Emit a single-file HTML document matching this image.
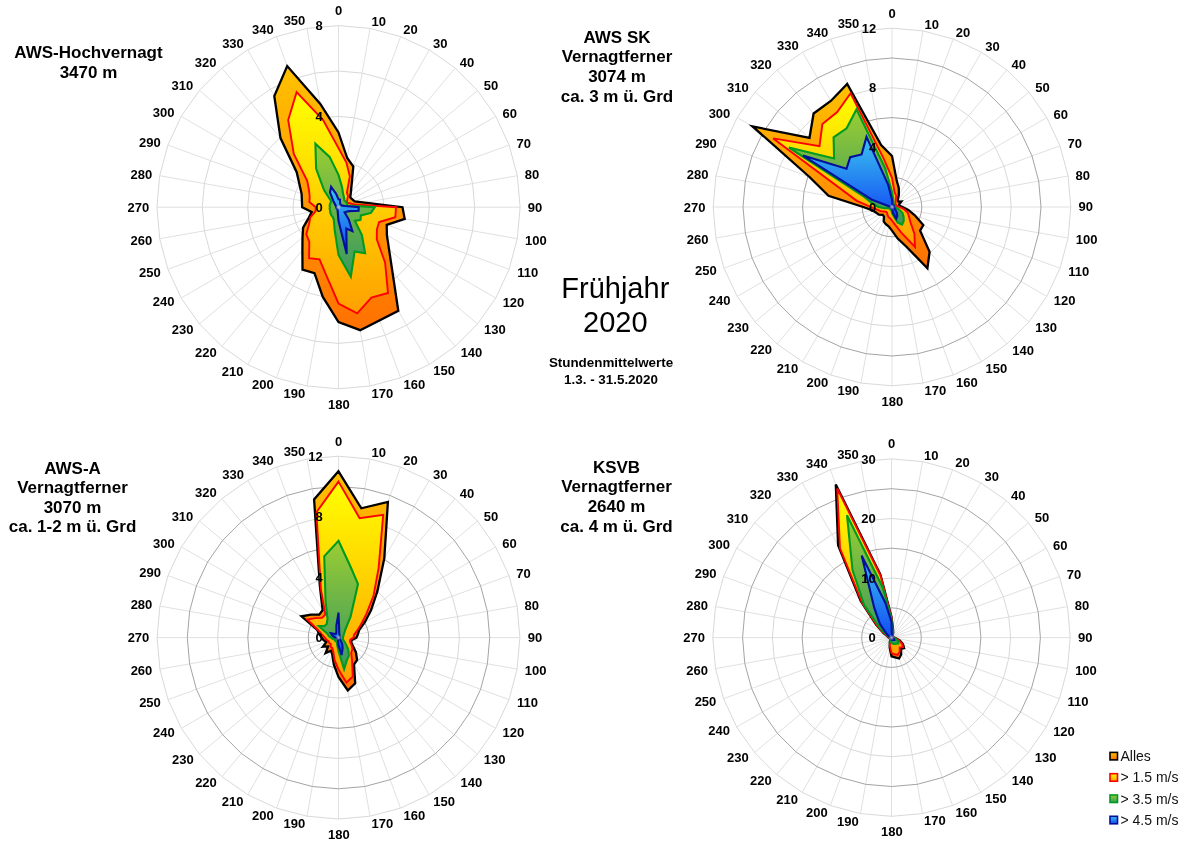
<!DOCTYPE html>
<html><head><meta charset="utf-8"><title>Frühjahr 2020</title>
<style>
html,body{margin:0;padding:0;background:#fff;}
body{width:1200px;height:847px;overflow:hidden;position:relative;font-family:"Liberation Sans",Arial,sans-serif;}
svg{position:absolute;left:0;top:0;}
.t{font-family:"Liberation Sans",Arial,sans-serif;font-weight:bold;fill:#000;}
.dl{font-size:13px;font-weight:bold;text-anchor:middle;fill:#000;font-family:"Liberation Sans",Arial,sans-serif;}
.sl{font-size:13px;font-weight:bold;text-anchor:middle;fill:#000;font-family:"Liberation Sans",Arial,sans-serif;}
</style></head><body>
<svg width="1200" height="847" viewBox="0 0 1200 847">
<defs>
<linearGradient id="gA" x1="0" y1="0" x2="0" y2="1"><stop offset="0" stop-color="#FFC200"/><stop offset="1" stop-color="#FF7000"/></linearGradient>
<linearGradient id="gB" x1="0" y1="0" x2="0" y2="1"><stop offset="0" stop-color="#FFFF00"/><stop offset="1" stop-color="#FFA000"/></linearGradient>
<linearGradient id="gC" x1="0" y1="0" x2="0" y2="1"><stop offset="0" stop-color="#9ACD32"/><stop offset="1" stop-color="#389860"/></linearGradient>
<linearGradient id="gD" x1="0" y1="0" x2="0" y2="1"><stop offset="0" stop-color="#3CC4EE"/><stop offset="1" stop-color="#1048F5"/></linearGradient>
<radialGradient id="gc"><stop offset="0" stop-color="#c8c8c8" stop-opacity="0.9"/><stop offset="1" stop-color="#c8c8c8" stop-opacity="0"/></radialGradient>
</defs>
<rect width="1200" height="847" fill="#fff"/>

<g stroke="#DCDCDC" stroke-width="0.9"><line x1="338.5" y1="207.2" x2="338.5" y2="25.6"/><line x1="338.5" y1="207.2" x2="370.0" y2="28.4"/><line x1="338.5" y1="207.2" x2="400.6" y2="36.6"/><line x1="338.5" y1="207.2" x2="429.3" y2="49.9"/><line x1="338.5" y1="207.2" x2="455.2" y2="68.1"/><line x1="338.5" y1="207.2" x2="477.6" y2="90.5"/><line x1="338.5" y1="207.2" x2="495.8" y2="116.4"/><line x1="338.5" y1="207.2" x2="509.1" y2="145.1"/><line x1="338.5" y1="207.2" x2="517.3" y2="175.7"/><line x1="338.5" y1="207.2" x2="520.1" y2="207.2"/><line x1="338.5" y1="207.2" x2="517.3" y2="238.7"/><line x1="338.5" y1="207.2" x2="509.1" y2="269.3"/><line x1="338.5" y1="207.2" x2="495.8" y2="298.0"/><line x1="338.5" y1="207.2" x2="477.6" y2="323.9"/><line x1="338.5" y1="207.2" x2="455.2" y2="346.3"/><line x1="338.5" y1="207.2" x2="429.3" y2="364.5"/><line x1="338.5" y1="207.2" x2="400.6" y2="377.8"/><line x1="338.5" y1="207.2" x2="370.0" y2="386.0"/><line x1="338.5" y1="207.2" x2="338.5" y2="388.8"/><line x1="338.5" y1="207.2" x2="307.0" y2="386.0"/><line x1="338.5" y1="207.2" x2="276.4" y2="377.8"/><line x1="338.5" y1="207.2" x2="247.7" y2="364.5"/><line x1="338.5" y1="207.2" x2="221.8" y2="346.3"/><line x1="338.5" y1="207.2" x2="199.4" y2="323.9"/><line x1="338.5" y1="207.2" x2="181.2" y2="298.0"/><line x1="338.5" y1="207.2" x2="167.9" y2="269.3"/><line x1="338.5" y1="207.2" x2="159.7" y2="238.7"/><line x1="338.5" y1="207.2" x2="156.9" y2="207.2"/><line x1="338.5" y1="207.2" x2="159.7" y2="175.7"/><line x1="338.5" y1="207.2" x2="167.9" y2="145.1"/><line x1="338.5" y1="207.2" x2="181.2" y2="116.4"/><line x1="338.5" y1="207.2" x2="199.4" y2="90.5"/><line x1="338.5" y1="207.2" x2="221.8" y2="68.1"/><line x1="338.5" y1="207.2" x2="247.7" y2="49.9"/><line x1="338.5" y1="207.2" x2="276.4" y2="36.6"/><line x1="338.5" y1="207.2" x2="307.0" y2="28.4"/></g>
<polygon points="338.5,161.8 346.4,162.5 354.0,164.5 361.2,167.9 367.7,172.4 373.3,178.0 377.8,184.5 381.2,191.7 383.2,199.3 383.9,207.2 383.2,215.1 381.2,222.7 377.8,229.9 373.3,236.4 367.7,242.0 361.2,246.5 354.0,249.9 346.4,251.9 338.5,252.6 330.6,251.9 323.0,249.9 315.8,246.5 309.3,242.0 303.7,236.4 299.2,229.9 295.8,222.7 293.8,215.1 293.1,207.2 293.8,199.3 295.8,191.7 299.2,184.5 303.7,178.0 309.3,172.4 315.8,167.9 323.0,164.5 330.6,162.5" fill="none" stroke="#D9D9D9" stroke-width="1"/>
<polygon points="338.5,116.4 354.3,117.8 369.6,121.9 383.9,128.6 396.9,137.6 408.1,148.8 417.1,161.8 423.8,176.1 427.9,191.4 429.3,207.2 427.9,223.0 423.8,238.3 417.1,252.6 408.1,265.6 396.9,276.8 383.9,285.8 369.6,292.5 354.3,296.6 338.5,298.0 322.7,296.6 307.4,292.5 293.1,285.8 280.1,276.8 268.9,265.6 259.9,252.6 253.2,238.3 249.1,223.0 247.7,207.2 249.1,191.4 253.2,176.1 259.9,161.8 268.9,148.8 280.1,137.6 293.1,128.6 307.4,121.9 322.7,117.8" fill="none" stroke="#D9D9D9" stroke-width="1"/>
<polygon points="338.5,71.0 362.2,73.1 385.1,79.2 406.6,89.2 426.0,102.9 442.8,119.7 456.5,139.1 466.5,160.6 472.6,183.5 474.7,207.2 472.6,230.9 466.5,253.8 456.5,275.3 442.8,294.7 426.0,311.5 406.6,325.2 385.1,335.2 362.2,341.3 338.5,343.4 314.8,341.3 291.9,335.2 270.4,325.2 251.0,311.5 234.2,294.7 220.5,275.3 210.5,253.8 204.4,230.9 202.3,207.2 204.4,183.5 210.5,160.6 220.5,139.1 234.2,119.7 251.0,102.9 270.4,89.2 291.9,79.2 314.8,73.1" fill="none" stroke="#D9D9D9" stroke-width="1"/>
<polygon points="338.5,25.6 370.0,28.4 400.6,36.6 429.3,49.9 455.2,68.1 477.6,90.5 495.8,116.4 509.1,145.1 517.3,175.7 520.1,207.2 517.3,238.7 509.1,269.3 495.8,298.0 477.6,323.9 455.2,346.3 429.3,364.5 400.6,377.8 370.0,386.0 338.5,388.8 307.0,386.0 276.4,377.8 247.7,364.5 221.8,346.3 199.4,323.9 181.2,298.0 167.9,269.3 159.7,238.7 156.9,207.2 159.7,175.7 167.9,145.1 181.2,116.4 199.4,90.5 221.8,68.1 247.7,49.9 276.4,36.6 307.0,28.4" fill="none" stroke="#D9D9D9" stroke-width="1"/>
<polygon points="338.5,132.5 347.2,158.0 353.3,166.6 350.9,192.4 350.2,197.4 352.3,199.3 354.7,201.3 402.5,207.2 404.7,218.9 386.7,224.8 386.9,235.1 398.3,310.9 360.2,330.2 338.5,322.1 322.7,296.7 314.5,273.1 302.5,269.6 302.4,250.2 302.5,237.4 303.1,227.6 308.6,218.1 311.7,211.9 302.2,207.2 301.6,193.8 296.7,172.2 280.5,138.1 274.3,96.1 287.2,66.1 320.3,103.9" fill="url(#gA)" stroke="#000" stroke-width="2.3" stroke-linejoin="miter" stroke-miterlimit="4"/>
<polygon points="338.5,148.1 346.4,162.5 349.8,176.3 346.9,192.6 348.0,195.9 347.2,199.9 346.8,202.4 349.2,203.3 354.2,204.4 396.0,207.2 395.3,217.2 379.1,222.0 376.9,229.3 376.8,239.3 385.1,262.7 388.0,293.0 371.4,297.7 357.2,313.4 338.5,303.5 326.4,275.6 319.5,259.3 309.1,258.1 309.3,242.0 306.3,234.2 309.0,224.2 310.3,217.5 315.5,211.3 315.8,207.2 309.4,202.1 309.7,196.7 309.0,190.2 307.2,180.9 293.8,154.0 288.2,120.1 296.6,92.2 323.1,120.0" fill="url(#gB)" stroke="#FF0000" stroke-width="1.9" stroke-linejoin="miter" stroke-miterlimit="4"/>
<polygon points="338.5,174.9 342.0,187.1 343.2,194.4 344.1,197.6 344.3,200.2 345.5,201.4 346.4,202.7 347.0,204.1 347.4,205.6 374.8,207.2 370.9,212.9 360.9,215.4 360.5,219.9 354.9,220.9 361.9,235.0 365.1,253.2 354.6,251.4 350.8,276.8 338.5,254.9 334.6,229.6 333.8,220.0 332.8,217.0 331.5,215.6 330.7,213.8 330.2,212.0 330.0,210.3 329.6,208.8 329.9,207.2 329.6,205.6 330.0,204.1 330.6,202.7 331.0,200.9 324.0,190.0 316.1,168.5 315.4,143.8 329.6,156.9" fill="url(#gC)" stroke="#009A1E" stroke-width="2.1" stroke-linejoin="miter" stroke-miterlimit="4"/>
<polygon points="338.5,199.3 339.9,199.4 340.1,202.9 340.2,204.2 340.7,204.6 341.1,205.0 341.5,205.5 342.8,205.6 345.2,206.0 358.7,207.2 358.6,210.7 349.2,211.1 346.4,211.7 344.6,212.3 348.7,219.4 352.4,231.2 346.3,228.5 346.7,253.9 338.5,220.8 337.7,211.7 337.6,209.8 337.4,209.2 337.0,208.9 336.8,208.7 336.5,208.3 336.4,208.0 336.3,207.6 336.2,207.2 336.3,206.8 336.4,206.4 335.5,205.5 335.0,204.3 333.4,201.1 330.0,192.4 331.1,186.9 336.1,193.8" fill="url(#gD)" stroke="#00109A" stroke-width="2.1" stroke-linejoin="miter" stroke-miterlimit="4"/>
<circle cx="338.5" cy="207.2" r="3" fill="url(#gc)"/>
<text class="sl" x="322.8" y="211.8" text-anchor="end" style="text-anchor:end">0</text>
<text class="sl" x="322.8" y="121.0" text-anchor="end" style="text-anchor:end">4</text>
<text class="sl" x="322.8" y="30.2" text-anchor="end" style="text-anchor:end">8</text>
<text class="dl" x="338.7" y="14.9">0</text>
<text class="dl" x="378.8" y="26.3">10</text>
<text class="dl" x="410.5" y="34.2">20</text>
<text class="dl" x="440.3" y="48.4">30</text>
<text class="dl" x="467.1" y="67.0">40</text>
<text class="dl" x="491.1" y="90.0">50</text>
<text class="dl" x="509.7" y="117.8">60</text>
<text class="dl" x="523.8" y="147.5">70</text>
<text class="dl" x="532.0" y="179.2">80</text>
<text class="dl" x="535.1" y="211.6">90</text>
<text class="dl" x="535.9" y="244.7">100</text>
<text class="dl" x="527.8" y="276.7">110</text>
<text class="dl" x="513.5" y="306.5">120</text>
<text class="dl" x="494.8" y="333.5">130</text>
<text class="dl" x="471.5" y="356.9">140</text>
<text class="dl" x="444.2" y="375.3">150</text>
<text class="dl" x="414.4" y="389.3">160</text>
<text class="dl" x="382.4" y="397.9">170</text>
<text class="dl" x="338.8" y="408.5">180</text>
<text class="dl" x="294.4" y="398.0">190</text>
<text class="dl" x="262.8" y="389.3">200</text>
<text class="dl" x="232.6" y="375.6">210</text>
<text class="dl" x="205.9" y="356.7">220</text>
<text class="dl" x="182.6" y="333.8">230</text>
<text class="dl" x="163.7" y="306.4">240</text>
<text class="dl" x="149.8" y="276.6">250</text>
<text class="dl" x="141.3" y="245.0">260</text>
<text class="dl" x="138.3" y="212.0">270</text>
<text class="dl" x="141.3" y="179.0">280</text>
<text class="dl" x="149.9" y="146.8">290</text>
<text class="dl" x="163.6" y="117.0">300</text>
<text class="dl" x="182.3" y="90.2">310</text>
<text class="dl" x="205.7" y="66.8">320</text>
<text class="dl" x="233.0" y="48.1">330</text>
<text class="dl" x="262.9" y="34.4">340</text>
<text class="dl" x="294.5" y="25.3">350</text>
<g stroke="#DCDCDC" stroke-width="0.9"><line x1="892" y1="207" x2="892.0" y2="28.2"/><line x1="892" y1="207" x2="923.0" y2="30.9"/><line x1="892" y1="207" x2="953.2" y2="39.0"/><line x1="892" y1="207" x2="981.4" y2="52.2"/><line x1="892" y1="207" x2="1006.9" y2="70.0"/><line x1="892" y1="207" x2="1029.0" y2="92.1"/><line x1="892" y1="207" x2="1046.8" y2="117.6"/><line x1="892" y1="207" x2="1060.0" y2="145.8"/><line x1="892" y1="207" x2="1068.1" y2="176.0"/><line x1="892" y1="207" x2="1070.8" y2="207.0"/><line x1="892" y1="207" x2="1068.1" y2="238.0"/><line x1="892" y1="207" x2="1060.0" y2="268.2"/><line x1="892" y1="207" x2="1046.8" y2="296.4"/><line x1="892" y1="207" x2="1029.0" y2="321.9"/><line x1="892" y1="207" x2="1006.9" y2="344.0"/><line x1="892" y1="207" x2="981.4" y2="361.8"/><line x1="892" y1="207" x2="953.2" y2="375.0"/><line x1="892" y1="207" x2="923.0" y2="383.1"/><line x1="892" y1="207" x2="892.0" y2="385.8"/><line x1="892" y1="207" x2="861.0" y2="383.1"/><line x1="892" y1="207" x2="830.8" y2="375.0"/><line x1="892" y1="207" x2="802.6" y2="361.8"/><line x1="892" y1="207" x2="777.1" y2="344.0"/><line x1="892" y1="207" x2="755.0" y2="321.9"/><line x1="892" y1="207" x2="737.2" y2="296.4"/><line x1="892" y1="207" x2="724.0" y2="268.2"/><line x1="892" y1="207" x2="715.9" y2="238.0"/><line x1="892" y1="207" x2="713.2" y2="207.0"/><line x1="892" y1="207" x2="715.9" y2="176.0"/><line x1="892" y1="207" x2="724.0" y2="145.8"/><line x1="892" y1="207" x2="737.2" y2="117.6"/><line x1="892" y1="207" x2="755.0" y2="92.1"/><line x1="892" y1="207" x2="777.1" y2="70.0"/><line x1="892" y1="207" x2="802.6" y2="52.2"/><line x1="892" y1="207" x2="830.8" y2="39.0"/><line x1="892" y1="207" x2="861.0" y2="30.9"/></g>
<polygon points="892.0,177.2 897.2,177.7 902.2,179.0 906.9,181.2 911.2,184.2 914.8,187.8 917.8,192.1 920.0,196.8 921.3,201.8 921.8,207.0 921.3,212.2 920.0,217.2 917.8,221.9 914.8,226.2 911.2,229.8 906.9,232.8 902.2,235.0 897.2,236.3 892.0,236.8 886.8,236.3 881.8,235.0 877.1,232.8 872.8,229.8 869.2,226.2 866.2,221.9 864.0,217.2 862.7,212.2 862.2,207.0 862.7,201.8 864.0,196.8 866.2,192.1 869.2,187.8 872.8,184.2 877.1,181.2 881.8,179.0 886.8,177.7" fill="none" stroke="#A4A4A4" stroke-width="1"/>
<polygon points="892.0,147.4 902.3,148.3 912.4,151.0 921.8,155.4 930.3,161.3 937.7,168.7 943.6,177.2 948.0,186.6 950.7,196.7 951.6,207.0 950.7,217.3 948.0,227.4 943.6,236.8 937.7,245.3 930.3,252.7 921.8,258.6 912.4,263.0 902.3,265.7 892.0,266.6 881.7,265.7 871.6,263.0 862.2,258.6 853.7,252.7 846.3,245.3 840.4,236.8 836.0,227.4 833.3,217.3 832.4,207.0 833.3,196.7 836.0,186.6 840.4,177.2 846.3,168.7 853.7,161.3 862.2,155.4 871.6,151.0 881.7,148.3" fill="none" stroke="#D9D9D9" stroke-width="1"/>
<polygon points="892.0,117.6 907.5,119.0 922.6,123.0 936.7,129.6 949.5,138.5 960.5,149.5 969.4,162.3 976.0,176.4 980.0,191.5 981.4,207.0 980.0,222.5 976.0,237.6 969.4,251.7 960.5,264.5 949.5,275.5 936.7,284.4 922.6,291.0 907.5,295.0 892.0,296.4 876.5,295.0 861.4,291.0 847.3,284.4 834.5,275.5 823.5,264.5 814.6,251.7 808.0,237.6 804.0,222.5 802.6,207.0 804.0,191.5 808.0,176.4 814.6,162.3 823.5,149.5 834.5,138.5 847.3,129.6 861.4,123.0 876.5,119.0" fill="none" stroke="#A4A4A4" stroke-width="1"/>
<polygon points="892.0,87.8 912.7,89.6 932.8,95.0 951.6,103.8 968.6,115.7 983.3,130.4 995.2,147.4 1004.0,166.2 1009.4,186.3 1011.2,207.0 1009.4,227.7 1004.0,247.8 995.2,266.6 983.3,283.6 968.6,298.3 951.6,310.2 932.8,319.0 912.7,324.4 892.0,326.2 871.3,324.4 851.2,319.0 832.4,310.2 815.4,298.3 800.7,283.6 788.8,266.6 780.0,247.8 774.6,227.7 772.8,207.0 774.6,186.3 780.0,166.2 788.8,147.4 800.7,130.4 815.4,115.7 832.4,103.8 851.2,95.0 871.3,89.6" fill="none" stroke="#D9D9D9" stroke-width="1"/>
<polygon points="892.0,58.0 917.9,60.3 943.0,67.0 966.5,78.0 987.8,92.9 1006.1,111.2 1021.0,132.5 1032.0,156.0 1038.7,181.1 1041.0,207.0 1038.7,232.9 1032.0,258.0 1021.0,281.5 1006.1,302.8 987.8,321.1 966.5,336.0 943.0,347.0 917.9,353.7 892.0,356.0 866.1,353.7 841.0,347.0 817.5,336.0 796.2,321.1 777.9,302.8 763.0,281.5 752.0,258.0 745.3,232.9 743.0,207.0 745.3,181.1 752.0,156.0 763.0,132.5 777.9,111.2 796.2,92.9 817.5,78.0 841.0,67.0 866.1,60.3" fill="none" stroke="#A4A4A4" stroke-width="1"/>
<polygon points="892.0,28.2 923.0,30.9 953.2,39.0 981.4,52.2 1006.9,70.0 1029.0,92.1 1046.8,117.6 1060.0,145.8 1068.1,176.0 1070.8,207.0 1068.1,238.0 1060.0,268.2 1046.8,296.4 1029.0,321.9 1006.9,344.0 981.4,361.8 953.2,375.0 923.0,383.1 892.0,385.8 861.0,383.1 830.8,375.0 802.6,361.8 777.1,344.0 755.0,321.9 737.2,296.4 724.0,268.2 715.9,238.0 713.2,207.0 715.9,176.0 724.0,145.8 737.2,117.6 755.0,92.1 777.1,70.0 802.6,52.2 830.8,39.0 861.0,30.9" fill="none" stroke="#D9D9D9" stroke-width="1"/>
<polygon points="892.0,156.0 896.7,180.6 898.8,188.2 898.8,195.2 897.8,200.0 898.4,201.6 901.4,201.5 899.1,204.4 899.5,205.7 902.6,207.0 908.3,209.9 914.8,215.3 923.3,225.1 920.1,230.6 929.6,251.8 927.4,268.2 906.4,246.7 897.5,238.3 892.0,230.6 888.6,226.4 885.8,224.1 883.7,221.4 884.0,216.5 882.7,214.8 878.9,214.6 876.3,212.7 872.6,210.4 863.2,207.0 828.5,195.8 809.5,177.0 752.5,126.4 809.5,137.8 813.6,113.5 830.8,101.0 847.2,83.9 881.1,145.1" fill="url(#gA)" stroke="#000" stroke-width="2.3" stroke-linejoin="miter" stroke-miterlimit="4"/>
<polygon points="892.0,177.8 894.6,192.1 896.1,195.6 895.8,200.4 895.4,202.9 895.5,204.1 895.9,204.7 896.3,205.4 897.2,206.1 899.6,207.0 903.9,209.1 907.7,212.7 909.0,216.8 910.6,222.6 914.4,233.7 915.0,246.9 901.3,232.6 895.2,224.9 892.0,220.6 890.0,218.2 888.4,217.0 887.5,214.9 887.1,212.8 886.2,211.9 884.1,211.5 880.6,211.1 877.1,209.6 870.8,207.0 856.8,200.8 773.2,138.4 819.5,146.2 822.4,124.1 837.2,112.1 850.6,93.3 883.3,157.8" fill="url(#gB)" stroke="#FF0000" stroke-width="1.9" stroke-linejoin="miter" stroke-miterlimit="4"/>
<polygon points="892.0,191.9 893.3,199.5 893.6,202.7 893.5,204.4 893.9,204.7 894.3,205.1 894.6,205.5 894.8,206.0 895.0,206.5 895.0,207.0 896.5,207.8 899.1,209.6 902.5,213.1 903.6,216.7 903.7,220.9 902.1,224.6 897.7,222.7 893.6,215.9 892.0,213.1 891.5,210.0 891.0,209.8 890.5,209.6 890.1,209.3 889.7,208.9 889.4,208.5 889.2,208.0 884.5,208.3 878.4,207.0 872.6,203.6 864.3,196.9 788.9,147.5 834.1,158.4 833.6,137.4 846.6,128.3 856.5,109.4 885.2,168.2" fill="url(#gC)" stroke="#009A1E" stroke-width="2.1" stroke-linejoin="miter" stroke-miterlimit="4"/>
<polygon points="892.0,199.4 892.4,204.8 892.8,204.9 893.1,205.0 893.5,205.3 893.7,205.5 894.0,205.9 894.1,206.2 894.2,206.6 894.3,207.0 894.2,207.4 894.1,207.8 894.6,208.5 895.5,209.9 896.9,212.8 897.3,216.2 896.2,218.7 893.1,213.0 892.0,208.5 891.7,208.5 891.5,208.4 891.2,208.3 891.0,208.2 890.8,208.0 890.7,207.8 890.6,207.5 890.5,207.3 890.5,207.0 890.2,206.7 871.4,199.5 803.0,155.6 846.5,168.8 850.2,157.2 861.6,154.4 866.5,136.9 888.1,184.6" fill="url(#gD)" stroke="#00109A" stroke-width="2.1" stroke-linejoin="miter" stroke-miterlimit="4"/>
<circle cx="892" cy="207" r="3" fill="url(#gc)"/>
<text class="sl" x="876.3" y="211.6" text-anchor="end" style="text-anchor:end">0</text>
<text class="sl" x="876.3" y="152.0" text-anchor="end" style="text-anchor:end">4</text>
<text class="sl" x="876.3" y="92.4" text-anchor="end" style="text-anchor:end">8</text>
<text class="sl" x="876.3" y="32.8" text-anchor="end" style="text-anchor:end">12</text>
<text class="dl" x="892.2" y="17.5">0</text>
<text class="dl" x="931.8" y="28.9">10</text>
<text class="dl" x="963.0" y="36.6">20</text>
<text class="dl" x="992.4" y="50.6">30</text>
<text class="dl" x="1018.8" y="68.9">40</text>
<text class="dl" x="1042.5" y="91.6">50</text>
<text class="dl" x="1060.8" y="119.0">60</text>
<text class="dl" x="1074.7" y="148.3">70</text>
<text class="dl" x="1082.7" y="179.5">80</text>
<text class="dl" x="1085.8" y="211.4">90</text>
<text class="dl" x="1086.6" y="244.0">100</text>
<text class="dl" x="1078.7" y="275.5">110</text>
<text class="dl" x="1064.6" y="304.9">120</text>
<text class="dl" x="1046.2" y="331.5">130</text>
<text class="dl" x="1023.2" y="354.6">140</text>
<text class="dl" x="996.3" y="372.7">150</text>
<text class="dl" x="966.9" y="386.5">160</text>
<text class="dl" x="935.4" y="394.9">170</text>
<text class="dl" x="892.3" y="405.5">180</text>
<text class="dl" x="848.4" y="395.0">190</text>
<text class="dl" x="817.3" y="386.5">200</text>
<text class="dl" x="787.5" y="373.0">210</text>
<text class="dl" x="761.2" y="354.4">220</text>
<text class="dl" x="738.2" y="331.8">230</text>
<text class="dl" x="719.6" y="304.8">240</text>
<text class="dl" x="705.9" y="275.4">250</text>
<text class="dl" x="697.6" y="244.3">260</text>
<text class="dl" x="694.6" y="211.8">270</text>
<text class="dl" x="697.6" y="179.3">280</text>
<text class="dl" x="706.0" y="147.6">290</text>
<text class="dl" x="719.5" y="118.2">300</text>
<text class="dl" x="737.9" y="91.8">310</text>
<text class="dl" x="761.0" y="68.7">320</text>
<text class="dl" x="787.9" y="50.3">330</text>
<text class="dl" x="817.4" y="36.8">340</text>
<text class="dl" x="848.5" y="27.9">350</text>
<g stroke="#DCDCDC" stroke-width="0.9"><line x1="338.5" y1="637.6" x2="338.5" y2="456.2"/><line x1="338.5" y1="637.6" x2="370.0" y2="459.0"/><line x1="338.5" y1="637.6" x2="400.5" y2="467.1"/><line x1="338.5" y1="637.6" x2="429.2" y2="480.5"/><line x1="338.5" y1="637.6" x2="455.1" y2="498.6"/><line x1="338.5" y1="637.6" x2="477.5" y2="521.0"/><line x1="338.5" y1="637.6" x2="495.6" y2="546.9"/><line x1="338.5" y1="637.6" x2="509.0" y2="575.6"/><line x1="338.5" y1="637.6" x2="517.1" y2="606.1"/><line x1="338.5" y1="637.6" x2="519.9" y2="637.6"/><line x1="338.5" y1="637.6" x2="517.1" y2="669.1"/><line x1="338.5" y1="637.6" x2="509.0" y2="699.6"/><line x1="338.5" y1="637.6" x2="495.6" y2="728.3"/><line x1="338.5" y1="637.6" x2="477.5" y2="754.2"/><line x1="338.5" y1="637.6" x2="455.1" y2="776.6"/><line x1="338.5" y1="637.6" x2="429.2" y2="794.7"/><line x1="338.5" y1="637.6" x2="400.5" y2="808.1"/><line x1="338.5" y1="637.6" x2="370.0" y2="816.2"/><line x1="338.5" y1="637.6" x2="338.5" y2="819.0"/><line x1="338.5" y1="637.6" x2="307.0" y2="816.2"/><line x1="338.5" y1="637.6" x2="276.5" y2="808.1"/><line x1="338.5" y1="637.6" x2="247.8" y2="794.7"/><line x1="338.5" y1="637.6" x2="221.9" y2="776.6"/><line x1="338.5" y1="637.6" x2="199.5" y2="754.2"/><line x1="338.5" y1="637.6" x2="181.4" y2="728.3"/><line x1="338.5" y1="637.6" x2="168.0" y2="699.6"/><line x1="338.5" y1="637.6" x2="159.9" y2="669.1"/><line x1="338.5" y1="637.6" x2="157.1" y2="637.6"/><line x1="338.5" y1="637.6" x2="159.9" y2="606.1"/><line x1="338.5" y1="637.6" x2="168.0" y2="575.6"/><line x1="338.5" y1="637.6" x2="181.4" y2="546.9"/><line x1="338.5" y1="637.6" x2="199.5" y2="521.0"/><line x1="338.5" y1="637.6" x2="221.9" y2="498.6"/><line x1="338.5" y1="637.6" x2="247.8" y2="480.5"/><line x1="338.5" y1="637.6" x2="276.5" y2="467.1"/><line x1="338.5" y1="637.6" x2="307.0" y2="459.0"/></g>
<polygon points="338.5,607.4 343.7,607.8 348.8,609.2 353.6,611.4 357.9,614.4 361.7,618.2 364.7,622.5 366.9,627.3 368.3,632.4 368.7,637.6 368.3,642.8 366.9,647.9 364.7,652.7 361.7,657.0 357.9,660.8 353.6,663.8 348.8,666.0 343.7,667.4 338.5,667.8 333.3,667.4 328.2,666.0 323.4,663.8 319.1,660.8 315.3,657.0 312.3,652.7 310.1,647.9 308.7,642.8 308.3,637.6 308.7,632.4 310.1,627.3 312.3,622.5 315.3,618.2 319.1,614.4 323.4,611.4 328.2,609.2 333.3,607.8" fill="none" stroke="#A4A4A4" stroke-width="1"/>
<polygon points="338.5,577.1 349.0,578.1 359.2,580.8 368.7,585.2 377.4,591.3 384.8,598.7 390.9,607.4 395.3,616.9 398.0,627.1 399.0,637.6 398.0,648.1 395.3,658.3 390.9,667.8 384.8,676.5 377.4,683.9 368.7,690.0 359.2,694.4 349.0,697.1 338.5,698.1 328.0,697.1 317.8,694.4 308.3,690.0 299.6,683.9 292.2,676.5 286.1,667.8 281.7,658.3 279.0,648.1 278.0,637.6 279.0,627.1 281.7,616.9 286.1,607.4 292.2,598.7 299.6,591.3 308.3,585.2 317.8,580.8 328.0,578.1" fill="none" stroke="#D9D9D9" stroke-width="1"/>
<polygon points="338.5,546.9 354.2,548.3 369.5,552.4 383.9,559.1 396.8,568.1 408.0,579.3 417.0,592.2 423.7,606.6 427.8,621.9 429.2,637.6 427.8,653.3 423.7,668.6 417.0,683.0 408.0,695.9 396.8,707.1 383.9,716.1 369.5,722.8 354.2,726.9 338.5,728.3 322.8,726.9 307.5,722.8 293.1,716.1 280.2,707.1 269.0,695.9 260.0,683.0 253.3,668.6 249.2,653.3 247.8,637.6 249.2,621.9 253.3,606.6 260.0,592.2 269.0,579.3 280.2,568.1 293.1,559.1 307.5,552.4 322.8,548.3" fill="none" stroke="#A4A4A4" stroke-width="1"/>
<polygon points="338.5,516.7 359.5,518.5 379.9,524.0 399.0,532.9 416.2,545.0 431.1,559.9 443.2,577.1 452.1,596.2 457.6,616.6 459.4,637.6 457.6,658.6 452.1,679.0 443.2,698.1 431.1,715.3 416.2,730.2 399.0,742.3 379.9,751.2 359.5,756.7 338.5,758.5 317.5,756.7 297.1,751.2 278.0,742.3 260.8,730.2 245.9,715.3 233.8,698.1 224.9,679.0 219.4,658.6 217.6,637.6 219.4,616.6 224.9,596.2 233.8,577.1 245.9,559.9 260.8,545.0 278.0,532.9 297.1,524.0 317.5,518.5" fill="none" stroke="#D9D9D9" stroke-width="1"/>
<polygon points="338.5,486.4 364.7,488.7 390.2,495.5 414.1,506.7 435.7,521.8 454.3,540.4 469.4,562.0 480.6,585.9 487.4,611.4 489.7,637.6 487.4,663.8 480.6,689.3 469.4,713.2 454.3,734.8 435.7,753.4 414.1,768.5 390.2,779.7 364.7,786.5 338.5,788.8 312.3,786.5 286.8,779.7 262.9,768.5 241.3,753.4 222.7,734.8 207.6,713.2 196.4,689.3 189.6,663.8 187.3,637.6 189.6,611.4 196.4,585.9 207.6,562.0 222.7,540.4 241.3,521.8 262.9,506.7 286.8,495.5 312.3,488.7" fill="none" stroke="#A4A4A4" stroke-width="1"/>
<polygon points="338.5,456.2 370.0,459.0 400.5,467.1 429.2,480.5 455.1,498.6 477.5,521.0 495.6,546.9 509.0,575.6 517.1,606.1 519.9,637.6 517.1,669.1 509.0,699.6 495.6,728.3 477.5,754.2 455.1,776.6 429.2,794.7 400.5,808.1 370.0,816.2 338.5,819.0 307.0,816.2 276.5,808.1 247.8,794.7 221.9,776.6 199.5,754.2 181.4,728.3 168.0,699.6 159.9,669.1 157.1,637.6 159.9,606.1 168.0,575.6 181.4,546.9 199.5,521.0 221.9,498.6 247.8,480.5 276.5,467.1 307.0,459.0" fill="none" stroke="#D9D9D9" stroke-width="1"/>
<polygon points="338.5,471.3 361.3,508.3 387.9,501.9 384.3,558.3 377.4,591.2 371.0,610.3 364.7,622.5 359.1,630.1 357.9,634.2 356.5,637.6 351.9,640.0 351.2,642.2 352.9,645.9 355.9,652.2 357.1,659.8 354.0,664.5 355.2,683.4 347.8,690.5 338.5,677.0 333.8,664.4 332.3,654.7 330.9,650.7 325.6,653.0 328.1,646.4 322.8,646.7 326.3,642.1 323.6,640.2 321.8,637.6 319.1,634.2 317.2,629.8 301.5,616.3 311.1,614.6 319.2,614.6 322.6,610.1 319.9,586.4 314.1,499.4" fill="url(#gA)" stroke="#000" stroke-width="2.3" stroke-linejoin="miter" stroke-miterlimit="4"/>
<polygon points="338.5,481.6 359.6,518.2 383.2,514.8 378.6,568.1 373.5,595.8 366.3,614.2 360.8,624.7 357.0,630.9 354.0,634.9 353.6,637.6 350.3,639.7 349.9,641.7 351.6,645.2 352.4,649.3 351.2,652.7 352.1,661.2 352.7,676.6 346.4,682.5 338.5,669.4 334.6,660.0 333.3,651.8 332.4,648.1 330.7,646.9 330.8,644.0 329.3,642.9 328.5,641.2 326.6,639.7 324.9,637.6 322.1,634.7 318.2,630.2 307.2,619.5 315.3,618.1 322.0,617.9 325.3,614.7 320.9,589.2 316.4,512.3" fill="url(#gB)" stroke="#FF0000" stroke-width="1.9" stroke-linejoin="miter" stroke-miterlimit="4"/>
<polygon points="338.5,540.8 350.9,567.5 358.0,584.0 350.6,616.6 345.3,629.5 344.3,632.7 343.7,634.6 343.5,635.8 343.0,636.8 343.0,637.6 343.0,638.4 342.8,639.2 343.7,640.6 345.5,643.4 348.2,649.2 348.9,655.7 346.8,660.4 344.1,669.2 338.5,651.2 337.2,645.1 336.9,641.9 336.2,641.5 335.6,641.1 335.0,640.5 334.6,639.9 334.2,639.2 332.5,638.7 330.9,637.6 328.7,635.9 327.1,633.5 318.8,626.2 324.6,625.9 326.8,623.7 327.5,618.6 325.6,602.0 324.2,556.3" fill="url(#gC)" stroke="#009A1E" stroke-width="2.1" stroke-linejoin="miter" stroke-miterlimit="4"/>
<polygon points="338.5,612.6 339.3,633.1 339.5,634.8 339.6,635.6 339.5,636.4 339.7,636.6 339.8,636.8 339.9,637.1 340.0,637.3 340.0,637.6 340.0,637.9 339.9,638.1 339.8,638.4 339.7,638.6 340.4,639.9 342.3,644.2 342.6,648.8 341.6,655.0 338.5,645.2 338.0,640.6 338.0,639.0 337.7,638.9 337.5,638.8 337.3,638.6 337.2,638.4 337.1,638.1 337.0,637.9 335.5,637.6 334.0,636.8 332.1,635.3 330.8,633.1 333.9,633.7 335.6,634.1 336.2,633.7 336.4,631.9 336.4,625.7" fill="url(#gD)" stroke="#00109A" stroke-width="2.1" stroke-linejoin="miter" stroke-miterlimit="4"/>
<circle cx="338.5" cy="637.6" r="3" fill="url(#gc)"/>
<text class="sl" x="322.8" y="642.2" text-anchor="end" style="text-anchor:end">0</text>
<text class="sl" x="322.8" y="581.7" text-anchor="end" style="text-anchor:end">4</text>
<text class="sl" x="322.8" y="521.3" text-anchor="end" style="text-anchor:end">8</text>
<text class="sl" x="322.8" y="460.8" text-anchor="end" style="text-anchor:end">12</text>
<text class="dl" x="338.7" y="445.5">0</text>
<text class="dl" x="378.8" y="456.9">10</text>
<text class="dl" x="410.4" y="464.8">20</text>
<text class="dl" x="440.2" y="479.0">30</text>
<text class="dl" x="467.0" y="497.6">40</text>
<text class="dl" x="490.9" y="520.5">50</text>
<text class="dl" x="509.5" y="548.3">60</text>
<text class="dl" x="523.6" y="578.0">70</text>
<text class="dl" x="531.8" y="609.6">80</text>
<text class="dl" x="534.9" y="642.0">90</text>
<text class="dl" x="535.7" y="675.1">100</text>
<text class="dl" x="527.6" y="707.0">110</text>
<text class="dl" x="513.3" y="736.8">120</text>
<text class="dl" x="494.6" y="763.8">130</text>
<text class="dl" x="471.4" y="787.1">140</text>
<text class="dl" x="444.1" y="805.5">150</text>
<text class="dl" x="414.3" y="819.5">160</text>
<text class="dl" x="382.4" y="828.1">170</text>
<text class="dl" x="338.8" y="838.7">180</text>
<text class="dl" x="294.4" y="828.2">190</text>
<text class="dl" x="262.9" y="819.5">200</text>
<text class="dl" x="232.7" y="805.8">210</text>
<text class="dl" x="206.0" y="786.9">220</text>
<text class="dl" x="182.8" y="764.1">230</text>
<text class="dl" x="163.9" y="736.7">240</text>
<text class="dl" x="150.0" y="706.9">250</text>
<text class="dl" x="141.5" y="675.4">260</text>
<text class="dl" x="138.5" y="642.4">270</text>
<text class="dl" x="141.5" y="609.4">280</text>
<text class="dl" x="150.1" y="577.3">290</text>
<text class="dl" x="163.8" y="547.5">300</text>
<text class="dl" x="182.5" y="520.7">310</text>
<text class="dl" x="205.8" y="497.4">320</text>
<text class="dl" x="233.1" y="478.7">330</text>
<text class="dl" x="263.0" y="465.0">340</text>
<text class="dl" x="294.5" y="455.9">350</text>
<g stroke="#DCDCDC" stroke-width="0.9"><line x1="891.5" y1="637.6" x2="891.5" y2="458.9"/><line x1="891.5" y1="637.6" x2="922.5" y2="461.6"/><line x1="891.5" y1="637.6" x2="952.6" y2="469.7"/><line x1="891.5" y1="637.6" x2="980.9" y2="482.8"/><line x1="891.5" y1="637.6" x2="1006.4" y2="500.7"/><line x1="891.5" y1="637.6" x2="1028.4" y2="522.7"/><line x1="891.5" y1="637.6" x2="1046.3" y2="548.2"/><line x1="891.5" y1="637.6" x2="1059.4" y2="576.5"/><line x1="891.5" y1="637.6" x2="1067.5" y2="606.6"/><line x1="891.5" y1="637.6" x2="1070.2" y2="637.6"/><line x1="891.5" y1="637.6" x2="1067.5" y2="668.6"/><line x1="891.5" y1="637.6" x2="1059.4" y2="698.7"/><line x1="891.5" y1="637.6" x2="1046.3" y2="726.9"/><line x1="891.5" y1="637.6" x2="1028.4" y2="752.5"/><line x1="891.5" y1="637.6" x2="1006.4" y2="774.5"/><line x1="891.5" y1="637.6" x2="980.9" y2="792.4"/><line x1="891.5" y1="637.6" x2="952.6" y2="805.5"/><line x1="891.5" y1="637.6" x2="922.5" y2="813.6"/><line x1="891.5" y1="637.6" x2="891.5" y2="816.3"/><line x1="891.5" y1="637.6" x2="860.5" y2="813.6"/><line x1="891.5" y1="637.6" x2="830.4" y2="805.5"/><line x1="891.5" y1="637.6" x2="802.1" y2="792.4"/><line x1="891.5" y1="637.6" x2="776.6" y2="774.5"/><line x1="891.5" y1="637.6" x2="754.6" y2="752.5"/><line x1="891.5" y1="637.6" x2="736.7" y2="727.0"/><line x1="891.5" y1="637.6" x2="723.6" y2="698.7"/><line x1="891.5" y1="637.6" x2="715.5" y2="668.6"/><line x1="891.5" y1="637.6" x2="712.8" y2="637.6"/><line x1="891.5" y1="637.6" x2="715.5" y2="606.6"/><line x1="891.5" y1="637.6" x2="723.6" y2="576.5"/><line x1="891.5" y1="637.6" x2="736.7" y2="548.2"/><line x1="891.5" y1="637.6" x2="754.6" y2="522.7"/><line x1="891.5" y1="637.6" x2="776.6" y2="500.7"/><line x1="891.5" y1="637.6" x2="802.1" y2="482.8"/><line x1="891.5" y1="637.6" x2="830.4" y2="469.7"/><line x1="891.5" y1="637.6" x2="860.5" y2="461.6"/></g>
<polygon points="891.5,607.8 896.7,608.3 901.7,609.6 906.4,611.8 910.6,614.8 914.3,618.5 917.3,622.7 919.5,627.4 920.8,632.4 921.3,637.6 920.8,642.8 919.5,647.8 917.3,652.5 914.3,656.7 910.6,660.4 906.4,663.4 901.7,665.6 896.7,666.9 891.5,667.4 886.3,666.9 881.3,665.6 876.6,663.4 872.4,660.4 868.7,656.7 865.7,652.5 863.5,647.8 862.2,642.8 861.7,637.6 862.2,632.4 863.5,627.4 865.7,622.7 868.7,618.5 872.4,614.8 876.6,611.8 881.3,609.6 886.3,608.3" fill="none" stroke="#A4A4A4" stroke-width="1"/>
<polygon points="891.5,578.0 901.8,578.9 911.9,581.6 921.3,586.0 929.8,592.0 937.1,599.3 943.1,607.8 947.5,617.2 950.2,627.3 951.1,637.6 950.2,647.9 947.5,658.0 943.1,667.4 937.1,675.9 929.8,683.2 921.3,689.2 911.9,693.6 901.8,696.3 891.5,697.2 881.2,696.3 871.1,693.6 861.7,689.2 853.2,683.2 845.9,675.9 839.9,667.4 835.5,658.0 832.8,647.9 831.9,637.6 832.8,627.3 835.5,617.2 839.9,607.8 845.9,599.3 853.2,592.0 861.7,586.0 871.1,581.6 881.2,578.9" fill="none" stroke="#D9D9D9" stroke-width="1"/>
<polygon points="891.5,548.2 907.0,549.6 922.1,553.6 936.2,560.2 948.9,569.2 959.9,580.2 968.9,592.9 975.5,607.0 979.5,622.1 980.9,637.6 979.5,653.1 975.5,668.2 968.9,682.3 959.9,695.0 948.9,706.0 936.2,715.0 922.1,721.6 907.0,725.6 891.5,727.0 876.0,725.6 860.9,721.6 846.8,715.0 834.1,706.0 823.1,695.0 814.1,682.3 807.5,668.2 803.5,653.1 802.1,637.6 803.5,622.1 807.5,607.0 814.1,592.9 823.1,580.2 834.1,569.2 846.8,560.2 860.9,553.6 876.0,549.6" fill="none" stroke="#A4A4A4" stroke-width="1"/>
<polygon points="891.5,518.5 912.2,520.3 932.2,525.7 951.1,534.4 968.1,546.3 982.8,561.0 994.7,578.0 1003.4,596.9 1008.8,616.9 1010.6,637.6 1008.8,658.3 1003.4,678.3 994.7,697.2 982.8,714.2 968.1,728.9 951.1,740.8 932.2,749.5 912.2,754.9 891.5,756.7 870.8,754.9 850.8,749.5 831.9,740.8 814.9,728.9 800.2,714.2 788.3,697.2 779.6,678.3 774.2,658.3 772.4,637.6 774.2,616.9 779.6,596.9 788.3,578.0 800.2,561.0 814.9,546.3 831.9,534.4 850.8,525.7 870.8,520.3" fill="none" stroke="#D9D9D9" stroke-width="1"/>
<polygon points="891.5,488.7 917.4,490.9 942.4,497.7 966.0,508.6 987.2,523.5 1005.6,541.9 1020.5,563.1 1031.4,586.7 1038.2,611.7 1040.4,637.6 1038.2,663.5 1031.4,688.5 1020.5,712.1 1005.6,733.3 987.2,751.7 966.0,766.6 942.4,777.5 917.4,784.3 891.5,786.5 865.6,784.3 840.6,777.5 817.0,766.6 795.8,751.7 777.4,733.3 762.5,712.1 751.6,688.5 744.8,663.5 742.6,637.6 744.8,611.7 751.6,586.7 762.5,563.1 777.4,541.9 795.8,523.5 817.0,508.6 840.6,497.7 865.6,490.9" fill="none" stroke="#A4A4A4" stroke-width="1"/>
<polygon points="891.5,458.9 922.5,461.6 952.6,469.7 980.8,482.8 1006.4,500.7 1028.4,522.7 1046.3,548.2 1059.4,576.5 1067.5,606.6 1070.2,637.6 1067.5,668.6 1059.4,698.7 1046.3,726.9 1028.4,752.5 1006.4,774.5 980.8,792.4 952.6,805.5 922.5,813.6 891.5,816.3 860.5,813.6 830.4,805.5 802.1,792.4 776.6,774.5 754.6,752.5 736.7,727.0 723.6,698.7 715.5,668.6 712.8,637.6 715.5,606.6 723.6,576.5 736.7,548.2 754.6,522.7 776.6,500.7 802.1,482.8 830.4,469.7 860.5,461.6" fill="none" stroke="#D9D9D9" stroke-width="1"/>
<polygon points="891.5,617.0 893.0,629.2 893.2,633.0 892.7,635.5 892.7,636.2 892.9,636.4 893.1,636.7 893.2,637.0 893.3,637.3 894.5,637.6 896.3,638.4 900.0,640.7 903.0,644.3 904.1,648.2 901.0,648.9 901.2,654.4 899.1,658.5 895.0,657.3 891.5,656.3 889.7,647.9 889.8,642.2 890.3,639.7 890.3,639.0 890.1,638.8 889.9,638.5 889.8,638.2 889.7,637.9 889.1,637.6 887.9,637.0 887.4,636.1 883.6,633.1 876.2,624.8 860.7,600.9 838.1,545.2 835.8,484.5 880.4,574.6" fill="url(#gA)" stroke="#000" stroke-width="2.3" stroke-linejoin="miter" stroke-miterlimit="4"/>
<polygon points="891.5,617.6 892.9,629.5 893.0,633.6 892.6,635.8 892.7,636.2 892.9,636.4 893.1,636.7 893.2,637.0 893.3,637.3 894.2,637.6 895.7,638.3 898.9,640.3 902.0,643.7 903.0,647.2 899.7,647.3 899.7,651.8 897.7,654.7 894.4,654.3 891.5,653.0 889.9,646.5 890.0,641.6 890.4,639.4 890.3,639.0 890.1,638.8 889.9,638.5 889.8,638.2 889.7,637.9 889.4,637.6 888.2,637.0 887.5,636.1 884.2,633.4 876.7,625.1 861.9,602.3 840.0,548.4 837.2,488.5 880.7,576.2" fill="url(#gB)" stroke="#FF0000" stroke-width="1.9" stroke-linejoin="miter" stroke-miterlimit="4"/>
<polygon points="891.5,619.4 892.6,631.6 892.5,634.8 892.4,636.0 892.3,636.7 892.4,636.8 892.5,637.0 892.6,637.2 892.7,637.4 893.3,637.6 894.5,638.1 896.6,639.5 898.3,641.5 898.5,643.5 896.6,643.6 895.1,643.9 893.8,643.9 892.6,643.6 891.5,643.1 890.9,641.2 890.9,639.3 890.9,638.6 890.7,638.5 890.6,638.4 890.5,638.2 890.4,638.0 890.3,637.8 890.3,637.6 889.7,637.3 889.2,636.8 886.8,634.9 879.9,627.9 864.2,605.1 852.5,570.1 847.0,515.2 882.7,587.5" fill="url(#gC)" stroke="#009A1E" stroke-width="2.1" stroke-linejoin="miter" stroke-miterlimit="4"/>
<polygon points="891.5,621.9 891.9,635.2 892.1,635.9 892.1,636.6 891.9,637.1 892.0,637.2 892.0,637.3 892.1,637.4 892.1,637.5 892.1,637.6 892.7,637.8 893.2,638.2 894.1,639.1 894.3,639.9 893.4,639.9 892.7,639.7 892.3,639.9 891.8,639.4 891.5,639.4 891.3,638.8 891.3,638.2 891.2,638.1 891.1,638.1 891.0,638.0 891.0,637.9 890.9,637.8 890.9,637.7 890.9,637.6 890.3,637.4 889.8,637.0 888.4,635.8 885.9,632.9 879.8,623.7 874.2,607.7 861.7,555.6 885.4,603.0" fill="url(#gD)" stroke="#00109A" stroke-width="2.1" stroke-linejoin="miter" stroke-miterlimit="4"/>
<circle cx="891.5" cy="637.6" r="3" fill="url(#gc)"/>
<text class="sl" x="875.8" y="642.2" text-anchor="end" style="text-anchor:end">0</text>
<text class="sl" x="875.8" y="582.6" text-anchor="end" style="text-anchor:end">10</text>
<text class="sl" x="875.8" y="523.1" text-anchor="end" style="text-anchor:end">20</text>
<text class="sl" x="875.8" y="463.5" text-anchor="end" style="text-anchor:end">30</text>
<text class="dl" x="891.7" y="448.2">0</text>
<text class="dl" x="931.3" y="459.6">10</text>
<text class="dl" x="962.5" y="467.3">20</text>
<text class="dl" x="991.8" y="481.3">30</text>
<text class="dl" x="1018.2" y="499.6">40</text>
<text class="dl" x="1041.9" y="522.3">50</text>
<text class="dl" x="1060.2" y="549.7">60</text>
<text class="dl" x="1074.1" y="578.9">70</text>
<text class="dl" x="1082.1" y="610.1">80</text>
<text class="dl" x="1085.2" y="642.0">90</text>
<text class="dl" x="1086.0" y="674.6">100</text>
<text class="dl" x="1078.1" y="706.1">110</text>
<text class="dl" x="1064.0" y="735.5">120</text>
<text class="dl" x="1045.6" y="762.0">130</text>
<text class="dl" x="1022.6" y="785.1">140</text>
<text class="dl" x="995.8" y="803.2">150</text>
<text class="dl" x="966.4" y="817.0">160</text>
<text class="dl" x="934.9" y="825.4">170</text>
<text class="dl" x="891.8" y="836.0">180</text>
<text class="dl" x="847.9" y="825.5">190</text>
<text class="dl" x="816.8" y="817.0">200</text>
<text class="dl" x="787.1" y="803.5">210</text>
<text class="dl" x="760.8" y="784.9">220</text>
<text class="dl" x="737.8" y="762.3">230</text>
<text class="dl" x="719.2" y="735.3">240</text>
<text class="dl" x="705.5" y="706.0">250</text>
<text class="dl" x="697.2" y="674.9">260</text>
<text class="dl" x="694.2" y="642.4">270</text>
<text class="dl" x="697.2" y="609.9">280</text>
<text class="dl" x="705.6" y="578.2">290</text>
<text class="dl" x="719.1" y="548.9">300</text>
<text class="dl" x="737.5" y="522.5">310</text>
<text class="dl" x="760.6" y="499.4">320</text>
<text class="dl" x="787.5" y="481.0">330</text>
<text class="dl" x="816.9" y="467.5">340</text>
<text class="dl" x="848.0" y="458.6">350</text>
<text x="88.5" y="58.3" text-anchor="middle" style="font-family:'Liberation Sans',Arial,sans-serif;font-size:17px;font-weight:bold;fill:#000">AWS-Hochvernagt</text><text x="88.5" y="78.3" text-anchor="middle" style="font-family:'Liberation Sans',Arial,sans-serif;font-size:17px;font-weight:bold;fill:#000">3470 m</text>
<text x="617" y="42.7" text-anchor="middle" style="font-family:'Liberation Sans',Arial,sans-serif;font-size:17px;font-weight:bold;fill:#000">AWS SK</text><text x="617" y="62.3" text-anchor="middle" style="font-family:'Liberation Sans',Arial,sans-serif;font-size:17px;font-weight:bold;fill:#000">Vernagtferner</text><text x="617" y="81.9" text-anchor="middle" style="font-family:'Liberation Sans',Arial,sans-serif;font-size:17px;font-weight:bold;fill:#000">3074 m</text><text x="617" y="101.5" text-anchor="middle" style="font-family:'Liberation Sans',Arial,sans-serif;font-size:17px;font-weight:bold;fill:#000">ca. 3 m ü. Grd</text>
<text x="615.3" y="297.7" text-anchor="middle" style="font-family:'Liberation Sans',Arial,sans-serif;font-size:29px;font-weight:normal;fill:#000">Frühjahr</text><text x="615.3" y="332.4" text-anchor="middle" style="font-family:'Liberation Sans',Arial,sans-serif;font-size:29px;font-weight:normal;fill:#000">2020</text>
<text x="611" y="366.6" text-anchor="middle" style="font-family:'Liberation Sans',Arial,sans-serif;font-size:13.4px;font-weight:bold;fill:#000">Stundenmittelwerte</text><text x="611" y="384.3" text-anchor="middle" style="font-family:'Liberation Sans',Arial,sans-serif;font-size:13.4px;font-weight:bold;fill:#000">1.3. - 31.5.2020</text>
<text x="72.5" y="473.7" text-anchor="middle" style="font-family:'Liberation Sans',Arial,sans-serif;font-size:17px;font-weight:bold;fill:#000">AWS-A</text><text x="72.5" y="493.2" text-anchor="middle" style="font-family:'Liberation Sans',Arial,sans-serif;font-size:17px;font-weight:bold;fill:#000">Vernagtferner</text><text x="72.5" y="512.7" text-anchor="middle" style="font-family:'Liberation Sans',Arial,sans-serif;font-size:17px;font-weight:bold;fill:#000">3070 m</text><text x="72.5" y="532.2" text-anchor="middle" style="font-family:'Liberation Sans',Arial,sans-serif;font-size:17px;font-weight:bold;fill:#000">ca. 1-2 m ü. Grd</text>
<text x="616.5" y="472.7" text-anchor="middle" style="font-family:'Liberation Sans',Arial,sans-serif;font-size:17px;font-weight:bold;fill:#000">KSVB</text><text x="616.5" y="492.3" text-anchor="middle" style="font-family:'Liberation Sans',Arial,sans-serif;font-size:17px;font-weight:bold;fill:#000">Vernagtferner</text><text x="616.5" y="511.9" text-anchor="middle" style="font-family:'Liberation Sans',Arial,sans-serif;font-size:17px;font-weight:bold;fill:#000">2640 m</text><text x="616.5" y="531.5" text-anchor="middle" style="font-family:'Liberation Sans',Arial,sans-serif;font-size:17px;font-weight:bold;fill:#000">ca. 4 m ü. Grd</text>
<rect x="1110" y="752.4" width="7.5" height="7.5" fill="url(#gA)" stroke="#000" stroke-width="1.6"/>
<text x="1120.5" y="761.0" style="font-family:'Liberation Sans',Arial,sans-serif;font-size:14px;fill:#111">Alles</text>
<rect x="1110" y="773.7" width="7.5" height="7.5" fill="url(#gB)" stroke="#FF0000" stroke-width="1.6"/>
<text x="1120.5" y="782.3" style="font-family:'Liberation Sans',Arial,sans-serif;font-size:14px;fill:#111">&gt; 1.5 m/s</text>
<rect x="1110" y="795.0" width="7.5" height="7.5" fill="url(#gC)" stroke="#009A1E" stroke-width="1.6"/>
<text x="1120.5" y="803.6" style="font-family:'Liberation Sans',Arial,sans-serif;font-size:14px;fill:#111">&gt; 3.5 m/s</text>
<rect x="1110" y="816.3" width="7.5" height="7.5" fill="url(#gD)" stroke="#00109A" stroke-width="1.6"/>
<text x="1120.5" y="824.9" style="font-family:'Liberation Sans',Arial,sans-serif;font-size:14px;fill:#111">&gt; 4.5 m/s</text>
</svg></body></html>
